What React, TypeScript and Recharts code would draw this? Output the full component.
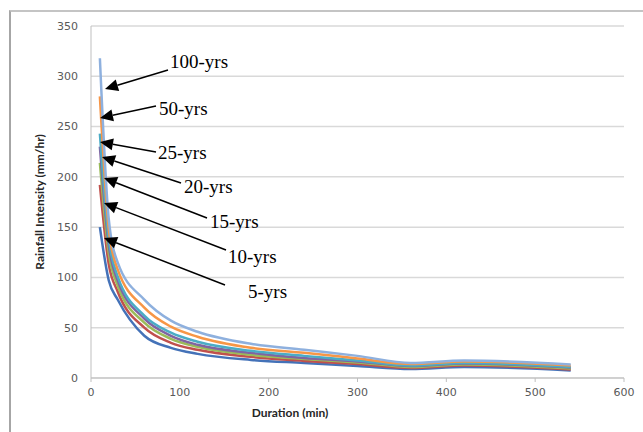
import React from "react";
import { LineChart, Line, XAxis, YAxis, CartesianGrid } from "recharts";

// durations (min) and rainfall intensity (mm/hr) per return period
const durations = [10, 20, 30, 60, 90, 120, 180, 240, 300, 360, 420, 540];
const yrs5 = [150, 97, 78, 42, 30, 24, 18, 15, 12, 9, 11, 7.5];
const yrs10 = [192, 113, 86, 50, 35, 28, 21, 17, 14, 10, 12.5, 8.5];
const yrs15 = [214, 124, 92, 55, 39, 31, 23, 19, 15.5, 11, 13.5, 9.5];
const yrs20 = [230, 132, 97, 59, 42, 33, 25, 20, 16.5, 12, 14.5, 10.5];
const yrs25 = [243, 138, 101, 62, 45, 36, 27, 22, 17.5, 12.5, 15, 11];
const yrs50 = [280, 148, 108, 70, 51, 41, 30, 25, 19.5, 14, 16.5, 12.5];
const yrs100 = [318, 158, 115, 78, 57, 46, 34, 28, 22, 15, 17.5, 13.5];

const xTicks = [0, 100, 200, 300, 400, 500, 600];
const yTicks = [0, 50, 100, 150, 200, 250, 300, 350];

const series = [
  { key: "y5", name: "5-yrs", values: yrs5, color: "#4472B8" },
  { key: "y10", name: "10-yrs", values: yrs10, color: "#C0504D" },
  { key: "y15", name: "15-yrs", values: yrs15, color: "#9BBB59" },
  { key: "y20", name: "20-yrs", values: yrs20, color: "#8064A2" },
  { key: "y25", name: "25-yrs", values: yrs25, color: "#4BACC6" },
  { key: "y50", name: "50-yrs", values: yrs50, color: "#F79646" },
  { key: "y100", name: "100-yrs", values: yrs100, color: "#8EB0DE" },
];

const data = durations.map((d, i) => {
  const row: Record<string, number> = { duration: d };
  series.forEach((s) => (row[s.key] = s.values[i]));
  return row;
});

// annotation arrows: text position + arrow from (x1,y1) to tip (x2,y2)
const notes = [
  { text: "100-yrs", tx: 170, ty: 68, x1: 168, y1: 70, x2: 105, y2: 89 },
  { text: "50-yrs", tx: 159, ty: 115, x1: 156, y1: 106, x2: 100, y2: 118 },
  { text: "25-yrs", tx: 158, ty: 159, x1: 156, y1: 152, x2: 100, y2: 142 },
  { text: "20-yrs", tx: 184, ty: 193, x1: 181, y1: 183, x2: 102, y2: 157 },
  { text: "15-yrs", tx: 210, ty: 228, x1: 207, y1: 218, x2: 104, y2: 178 },
  { text: "10-yrs", tx: 228, ty: 263, x1: 226, y1: 250, x2: 104, y2: 203 },
  { text: "5-yrs", tx: 248, ty: 298, x1: 225, y1: 285, x2: 104, y2: 238 },
];

function Arrow({ x1, y1, x2, y2 }: { x1: number; y1: number; x2: number; y2: number }) {
  const dx = x2 - x1;
  const dy = y2 - y1;
  const len = Math.sqrt(dx * dx + dy * dy);
  const ux = dx / len;
  const uy = dy / len;
  const hl = 13;
  const hw = 6;
  const bx = x2 - ux * hl;
  const by = y2 - uy * hl;
  const pts = `${x2},${y2} ${bx - uy * hw},${by + ux * hw} ${bx + uy * hw},${by - ux * hw}`;
  return (
    <g>
      <line x1={x1} y1={y1} x2={bx} y2={by} stroke="#000" strokeWidth={1.5} />
      <polygon points={pts} fill="#000" />
    </g>
  );
}

const tickStyle = { fill: "#595959", fontSize: 11, fontFamily: "DejaVu Sans" };
const titleStyle = { fill: "#262626", fontSize: 12, fontWeight: 700, fontFamily: "Lato" };

export default function App() {
  return (
    <div style={{ position: "absolute", left: 0, top: 0, width: 643, height: 432, background: "#fff" }}>
      <div
        style={{
          position: "absolute",
          left: 9,
          top: 10,
          width: 640,
          height: 430,
          borderLeft: "2px solid #A6A6A6",
          borderTop: "2px solid #C4C4C4",
        }}
      />
      <LineChart
        width={643}
        height={432}
        data={data}
        margin={{ top: 26, right: 19, bottom: 24, left: 0 }}
        style={{ position: "absolute", left: 0, top: 0 }}
      >
        <CartesianGrid vertical={false} stroke="#D9D9D9" strokeWidth={1.5} />
        <XAxis
          dataKey="duration"
          type="number"
          domain={[0, 600]}
          ticks={xTicks}
          height={30}
          tickSize={4}
          tickMargin={6}
          stroke="#BFBFBF"
          tick={tickStyle}
        />
        <YAxis
          domain={[0, 350]}
          ticks={yTicks}
          width={91}
          tickLine={false}
          tickSize={0}
          tickMargin={13}
          stroke="#BFBFBF"
          tick={tickStyle}
        />
        {series.map((s) => (
          <Line
            key={s.key}
            dataKey={s.key}
            name={s.name}
            type="monotone"
            stroke={s.color}
            strokeWidth={2.5}
            dot={false}
            isAnimationActive={false}
          />
        ))}
      </LineChart>
      <svg width={643} height={432} style={{ position: "absolute", left: 0, top: 0, pointerEvents: "none" }}>
        <text x={290} y={417} textAnchor="middle" style={titleStyle}>
          Duration (min)
        </text>
        <text x={44} y={202} textAnchor="middle" transform="rotate(-90 44 202)" style={titleStyle}>
          Rainfall Intensity (mm/hr)
        </text>
        {notes.map((n) => (
          <g key={n.text}>
            <Arrow x1={n.x1} y1={n.y1} x2={n.x2} y2={n.y2} />
            <text x={n.tx} y={n.ty} fontFamily="Liberation Serif" fontSize={19} fill="#000">
              {n.text}
            </text>
          </g>
        ))}
      </svg>
    </div>
  );
}
